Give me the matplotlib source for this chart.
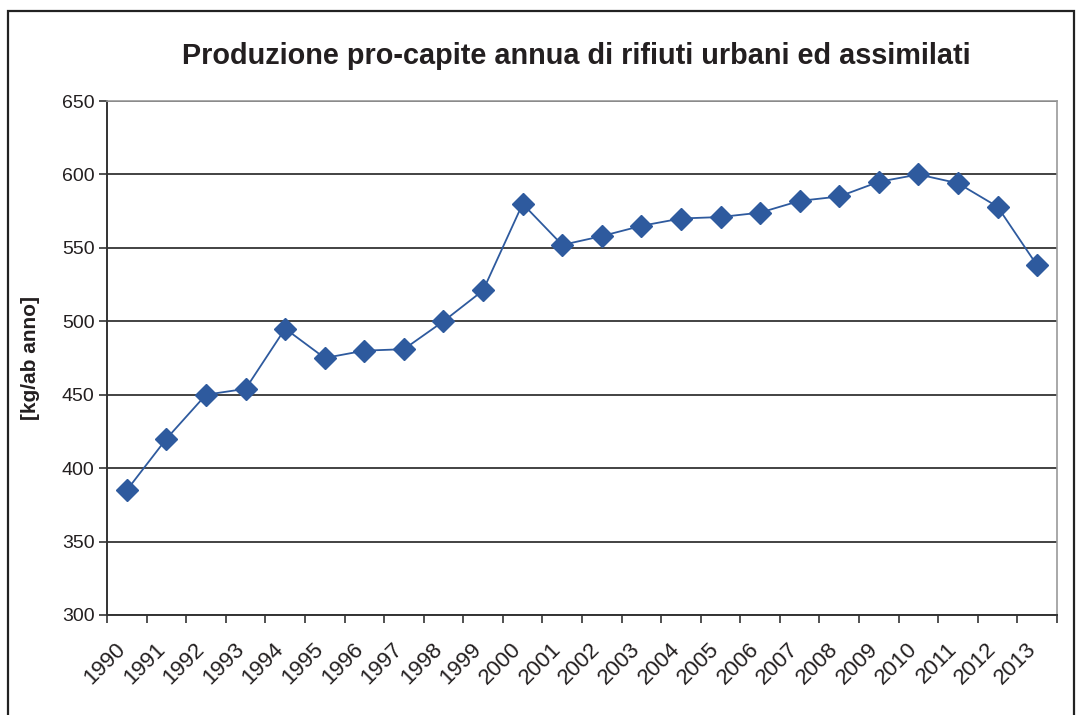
import matplotlib
matplotlib.use("Agg")
import matplotlib.pyplot as plt
from matplotlib.patches import Rectangle
import numpy as np

plt.rcParams['font.family'] = ['Liberation Sans', 'DejaVu Sans']

# dati
anni = [str(a) for a in range(1990, 2014)]
valori = [385, 420, 450, 454, 495, 475, 480, 481, 500, 521, 580, 552,
          558, 565, 570, 571, 574, 582, 585, 595, 600, 594, 578, 538]
y_ticks = [300, 350, 400, 450, 500, 550, 600, 650]

blu = '#2E5A9E'
testo = '#231F20'

fig = plt.figure(figsize=(10.77, 7.15), dpi=100)
ax = fig.add_axes([0.0994, 0.1399, 0.8820, 0.7188])

x = np.arange(len(anni)) + 0.5
ax.plot(x, valori, color=blu, lw=1.3, marker='D', markersize=11,
        markerfacecolor=blu, markeredgecolor=blu, zorder=3)

ax.set_xlim(0, len(anni))
ax.set_ylim(300, 650)
ax.set_yticks(y_ticks)
ax.set_yticklabels([str(v) for v in y_ticks], fontsize=14, color=testo)
ax.grid(axis='y', color='#222222', lw=1.2)
ax.set_axisbelow(True)

# tick tra le categorie, etichette al centro
ax.set_xticks(np.arange(len(anni) + 1))
ax.set_xticklabels([])
ax.set_xticks(x - 0.3, minor=True)
ax.set_xticklabels(anni, minor=True, rotation=45, ha='right', va='top',
                   rotation_mode='anchor', fontsize=16, color=testo)
ax.tick_params(axis='x', which='major', direction='out', length=6, width=1.2, color='#333333')
ax.tick_params(axis='x', which='minor', length=0, pad=17)
ax.tick_params(axis='y', direction='out', length=6, width=1.2, color='#333333', pad=3)

for s in ['left', 'bottom']:
    ax.spines[s].set_color('#333333')
    ax.spines[s].set_linewidth(1.4)
for s in ['top', 'right']:
    ax.spines[s].set_color('#999999')
    ax.spines[s].set_linewidth(1.2)

ax.set_ylabel('[kg/ab anno]', fontsize=15, fontweight='bold', labelpad=16, color=testo)
fig.text(0.535, 0.922, 'Produzione pro-capite annua di rifiuti urbani ed assimilati',
         ha='center', va='center', fontsize=20.8, fontweight='bold', color=testo)

# cornice esterna
fig.patches.append(Rectangle((0.0075, -0.05), 0.990, 1.035, transform=fig.transFigure,
                             fill=False, edgecolor='#222222', lw=1.6))

fig.savefig('out.png', dpi=100)
